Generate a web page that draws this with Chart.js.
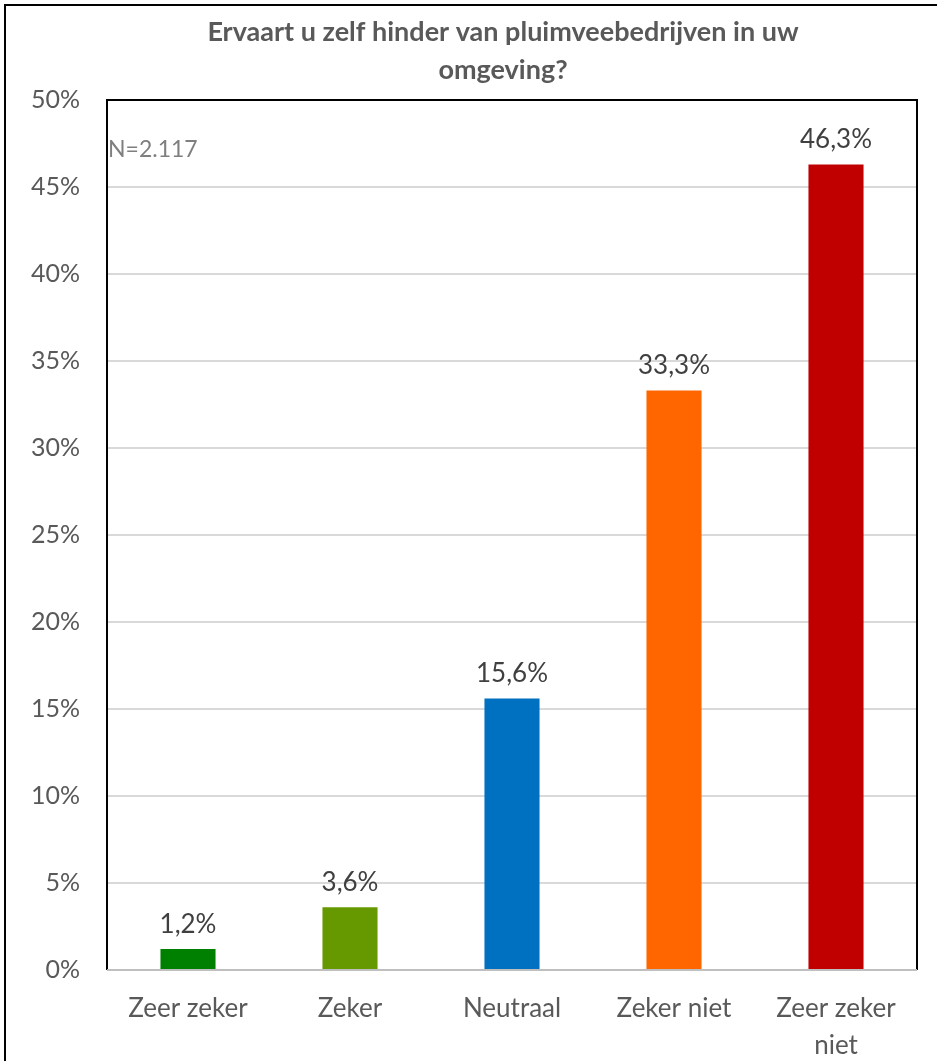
<!DOCTYPE html>
<html>
<head>
<meta charset="utf-8">
<title>Ervaart u zelf hinder van pluimveebedrijven in uw omgeving?</title>
<script src="https://cdn.jsdelivr.net/npm/chart.js@4"></script>
<style>
  html, body { margin: 0; padding: 0; background: #fff; }
  #wrap { width: 937px; height: 1061px; position: relative; }
</style>
</head>
<body>
<div id="wrap"><canvas id="chart" width="937" height="1061"></canvas></div>
<script>
// --- data ---
const categories = ['Zeer zeker', 'Zeker', 'Neutraal', 'Zeker niet', ['Zeer zeker', 'niet']];
const values = [1.2, 3.6, 15.6, 33.3, 46.3];
const barColors = ['#008000', '#669900', '#0070C0', '#FF6600', '#C00000'];
const titleLines = ['Ervaart u zelf hinder van pluimveebedrijven in uw', 'omgeving?'];
const sampleNote = 'N=2.117';

const FONT = "Lato, 'Liberation Sans', sans-serif";

// title, note, value labels and frame
const decorations = {
    id: 'decorations',
    beforeDraw(chart) {
        const c = chart.ctx;
        c.save();
        c.fillStyle = '#fff';
        c.fillRect(0, 0, chart.width, chart.height);
        c.restore();
    },
    afterDraw(chart) {
        const { ctx: c, chartArea: a } = chart;
        c.save();

        // outer frame (left + top visible)
        c.strokeStyle = '#000';
        c.lineWidth = 2;
        c.beginPath();
        c.moveTo(5, chart.height);
        c.lineTo(5, 5);
        c.lineTo(chart.width, 5);
        c.stroke();

        // plot box
        c.beginPath();
        c.moveTo(a.left, a.bottom);
        c.lineTo(a.left, a.top);
        c.lineTo(a.right, a.top);
        c.lineTo(a.right, a.bottom);
        c.stroke();

        // baseline
        c.strokeStyle = '#BFBFBF';
        c.beginPath();
        c.moveTo(a.left, a.bottom);
        c.lineTo(a.right, a.bottom);
        c.stroke();

        // title
        c.fillStyle = '#595959';
        c.font = 'bold 27px ' + FONT;
        c.textAlign = 'center';
        c.textBaseline = 'middle';
        titleLines.forEach((t, i) => c.fillText(t, 503, 32 + i * 38));

        // N note
        c.fillStyle = '#7F7F7F';
        c.font = '23px ' + FONT;
        c.textAlign = 'left';
        c.fillText(sampleNote, a.left + 1, 150);

        // value labels
        c.fillStyle = '#404040';
        c.font = '26px ' + FONT;
        c.textAlign = 'center';
        c.textBaseline = 'bottom';
        chart.getDatasetMeta(0).data.forEach((bar, i) => {
            c.fillText(values[i].toFixed(1).replace('.', ',') + '%', bar.x, bar.y - 12);
        });
        c.restore();
    }
};

new Chart(document.getElementById('chart'), {
    type: 'bar',
    data: {
        labels: categories,
        datasets: [{
            data: values,
            backgroundColor: barColors,
            borderWidth: 0,
            barPercentage: 0.34,
            categoryPercentage: 1,
        }]
    },
    options: {
        responsive: false,
        animation: false,
        devicePixelRatio: 1,
        layout: { padding: { left: 0, top: 100, right: 20, bottom: 0 } },
        plugins: {
            legend: { display: false },
            tooltip: { enabled: false },
            title: { display: false },
        },
        scales: {
            x: {
                grid: { display: false, drawTicks: false },
                border: { display: false },
                ticks: {
                    color: '#595959',
                    font: { family: FONT, size: 26, lineHeight: 1.42 },
                    padding: 20,
                    maxRotation: 0,
                    autoSkip: false,
                },
                afterFit(scale) { scale.height = 91; },
            },
            y: {
                min: 0,
                max: 50,
                grid: { color: '#D9D9D9', lineWidth: 2, drawTicks: false },
                border: { display: false },
                ticks: {
                    stepSize: 5,
                    color: '#595959',
                    font: { family: FONT, size: 25 },
                    padding: 27,
                    callback: v => v + '%',
                },
                afterFit(scale) { scale.width = 107; },
            }
        }
    },
    plugins: [decorations]
});
</script>
</body>
</html>
